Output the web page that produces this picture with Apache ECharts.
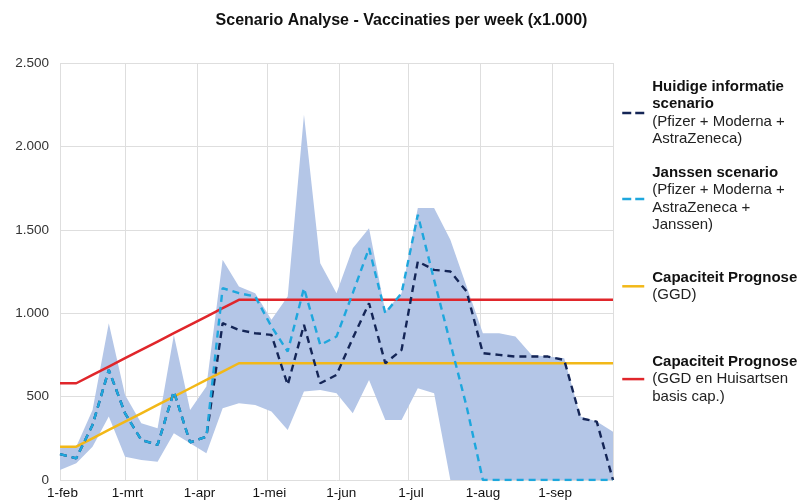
<!DOCTYPE html>
<html>
<head>
<meta charset="utf-8">
<script src="https://cdn.jsdelivr.net/npm/echarts@6/dist/echarts.min.js"></script>
<style>
  html, body { margin: 0; background: #fff; }
  #chart { width: 803px; height: 504px; }
</style>
</head>
<body>
<div id="chart"></div>
<script>
/* weken (maandag) */
var weeks = [
    '2021-02-01', '2021-02-08', '2021-02-15', '2021-02-22',
    '2021-03-01', '2021-03-08', '2021-03-15', '2021-03-22', '2021-03-29',
    '2021-04-05', '2021-04-12', '2021-04-19', '2021-04-26',
    '2021-05-03', '2021-05-10', '2021-05-17', '2021-05-24', '2021-05-31',
    '2021-06-07', '2021-06-14', '2021-06-21', '2021-06-28',
    '2021-07-05', '2021-07-12', '2021-07-19', '2021-07-26',
    '2021-08-02', '2021-08-09', '2021-08-16', '2021-08-23', '2021-08-30',
    '2021-09-06', '2021-09-13', '2021-09-20', '2021-09-27'
];
var monthLabels = ['1-jan', '1-feb', '1-mrt', '1-apr', '1-mei', '1-jun', '1-jul', '1-aug', '1-sep', '1-okt', '1-nov', '1-dec'];
var yTicks = [0, 500, 1000, 1500, 2000, 2500];

// bandbreedte (onder / boven)
var bandLow = [60, 100, 200, 380, 140, 120, 110, 280, 220, 160, 430, 460, 450, 410, 300, 530, 540, 520,
    400, 600, 360, 360, 550, 520, 0, 0, 0, 0, 0, 0, 0, 0, 0, 0, 0];
var bandHigh = [190, 200, 420, 940, 510, 340, 310, 870, 420, 560, 1320, 1160, 1120, 960, 1100, 2190, 1300, 1120,
    1390, 1510, 1010, 1120, 1630, 1630, 1440, 1160, 880, 880, 860, 750, 740, 730, 380, 350, 290];

// Huidige informatie scenario
var huidige = [155, 130, 330, 660, 400, 240, 210, 530, 225, 260, 940, 900, 880, 870, 570, 930, 580, 630,
    850, 1060, 700, 780, 1310, 1260, 1250, 1130, 760, 750, 740, 740, 740, 720, 370, 350, 0];
// Janssen scenario
var janssen = [155, 130, 330, 660, 400, 240, 210, 530, 225, 260, 1150, 1120, 1100, 920, 770, 1150, 810, 860,
    1120, 1390, 1000, 1120, 1590, 1200, 820, 440, 0, 0, 0, 0, 0, 0, 0, 0, 0];
// Capaciteit prognoses
var capGGD = [200, 200, 250, 300, 350, 400, 450, 500, 550, 600, 650, 700, 700, 700, 700, 700, 700, 700,
    700, 700, 700, 700, 700, 700, 700, 700, 700, 700, 700, 700, 700, 700, 700, 700, 700];
var capGGDHa = [580, 580, 630, 680, 730, 780, 830, 880, 930, 980, 1030, 1080, 1080, 1080, 1080, 1080, 1080, 1080,
    1080, 1080, 1080, 1080, 1080, 1080, 1080, 1080, 1080, 1080, 1080, 1080, 1080, 1080, 1080, 1080, 1080];

var names = [
    'Huidige informatie scenario',
    'Janssen scenario',
    'Capaciteit Prognose (GGD)',
    'Capaciteit Prognose (GGD en Huisartsen basis cap.)'
];
// legenda teksten: vet / normaal
var legendBold = [['Huidige informatie', 'scenario'], ['Janssen scenario'], ['Capaciteit Prognose'], ['Capaciteit Prognose']];
var legendNormal = [['(Pfizer + Moderna +', 'AstraZeneca)'], ['(Pfizer + Moderna +', 'AstraZeneca +', 'Janssen)'],
    ['(GGD)'], ['(GGD en Huisartsen', 'basis cap.)']];

var pair = function (arr) {
    return arr.map(function (v, i) { return [weeks[i], v]; });
};
var bandDiff = bandHigh.map(function (v, i) { return v - bandLow[i]; });

var FONT = 'Liberation Sans, Arial, sans-serif';

/* één legenda per reeks, zodat de blokken los te plaatsen zijn */
var makeLegend = function (idx, top, dashed) {
    return {
        data: [names[idx]],
        left: 621,
        top: top,
        padding: 0,
        itemWidth: 22,
        itemHeight: 10,
        selectedMode: false,
        itemStyle: { opacity: 0 },
        lineStyle: { width: 2.5, type: dashed ? [9, 4] : 'solid' },
        formatter: function () {
            var b = legendBold[idx].map(function (s) { return '{b|' + s + '}'; });
            var n = legendNormal[idx].map(function (s) { return '{n|' + s + '}'; });
            return b.concat(n).join('\n');
        },
        textStyle: {
            padding: [0, 0, 0, 3],
            rich: {
                b: { fontFamily: FONT, fontSize: 15, fontWeight: 'bold', color: '#111', lineHeight: 17.6 },
                n: { fontFamily: FONT, fontSize: 15, color: '#222', lineHeight: 17.6 }
            }
        }
    };
};

var chart = echarts.init(document.getElementById('chart'), null, { renderer: 'canvas' });

var option = {
    animation: false,
    backgroundColor: '#fff',
    title: {
        text: 'Scenario Analyse - Vaccinaties per week (x1.000)',
        left: 'center',
        top: 13,
        padding: 0,
        textStyle: { fontFamily: FONT, fontSize: 16, fontWeight: 'bold', color: '#111' }
    },
    legend: [makeLegend(0, 79, true), makeLegend(1, 165, true), makeLegend(2, 270, false), makeLegend(3, 354, false)],
    grid: { left: 60, right: 190, top: 63, bottom: 24, containLabel: false },
    xAxis: {
        type: 'time',
        min: weeks[0],
        max: weeks[weeks.length - 1],
        minInterval: 28 * 24 * 3600 * 1000,
        maxInterval: 31 * 24 * 3600 * 1000,
        axisLine: { show: false },
        axisTick: { show: false },
        splitLine: { show: true, lineStyle: { color: '#dedede', width: 1 } },
        axisLabel: {
            color: '#111',
            fontFamily: FONT,
            fontSize: 13.5,
            margin: 6,
            padding: [0, 0, 0, 5],
            hideOverlap: false,
            showMaxLabel: false,
            formatter: function (val) {
                var d = new Date(val);
                return d.getDate() === 1 ? monthLabels[d.getMonth()] : '';
            }
        }
    },
    yAxis: {
        type: 'value',
        min: yTicks[0],
        max: yTicks[yTicks.length - 1],
        interval: 500,
        axisLine: { show: false },
        axisTick: { show: false },
        splitLine: { lineStyle: { color: '#dedede', width: 1 } },
        axisLabel: {
            color: '#333',
            fontFamily: FONT,
            fontSize: 13.5,
            margin: 11,
            formatter: function (v) {
                return String(v).replace(/\B(?=(\d{3})+(?!\d))/g, '.');
            }
        }
    },
    series: [
        {
            name: 'bandLow', type: 'line', stack: 'band', data: pair(bandLow),
            symbol: 'none', lineStyle: { width: 0, opacity: 0 }, silent: true
        },
        {
            name: 'band', type: 'line', stack: 'band', data: pair(bandDiff),
            symbol: 'none', lineStyle: { width: 0, opacity: 0 },
            areaStyle: { color: '#b4c6e7', opacity: 1 }, silent: true
        },
        {
            name: names[3], type: 'line', data: pair(capGGDHa), symbol: 'none',
            color: '#e0262b', lineStyle: { color: '#e0262b', width: 2.5 }
        },
        {
            name: names[2], type: 'line', data: pair(capGGD), symbol: 'none',
            color: '#f2b818', lineStyle: { color: '#f2b818', width: 2.5 }
        },
        {
            name: names[0], type: 'line', data: pair(huidige), symbol: 'none',
            color: '#142556', lineStyle: { color: '#142556', width: 2.4, type: [7, 5] }
        },
        {
            name: names[1], type: 'line', data: pair(janssen), symbol: 'none',
            color: '#1ea7dd', lineStyle: { color: '#1ea7dd', width: 2.4, type: [7, 5] }
        }
    ]
};

chart.setOption(option);
</script>
</body>
</html>
